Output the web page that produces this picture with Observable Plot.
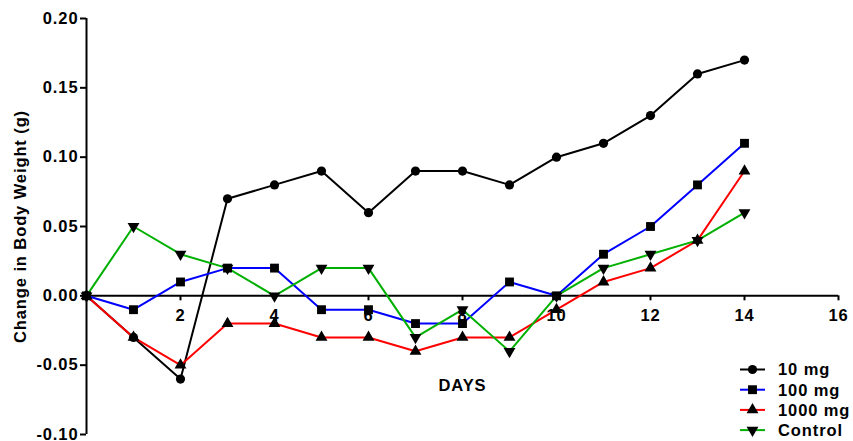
<!DOCTYPE html>
<html>
<head>
<meta charset="utf-8">
<script src="https://cdn.jsdelivr.net/npm/d3@7"></script>
<script src="https://cdn.jsdelivr.net/npm/@observablehq/plot@0.6"></script>
<style>
  html, body { margin: 0; padding: 0; background: #fff; }
  #chart { width: 853px; height: 441px; }
</style>
</head>
<body>
<div id="chart"></div>
<script>
// ---- data ----
const days = [0, 1, 2, 3, 4, 5, 6, 7, 8, 9, 10, 11, 12, 13, 14];
const seriesNames = ["10 mg", "100 mg", "1000 mg", "Control"];
const mg10    = [0, -0.03, -0.06, 0.07, 0.08, 0.09, 0.06, 0.09, 0.09, 0.08, 0.10, 0.11, 0.13, 0.16, 0.17];
const mg100   = [0, -0.01, 0.01, 0.02, 0.02, -0.01, -0.01, -0.02, -0.02, 0.01, 0, 0.03, 0.05, 0.08, 0.11];
const mg1000  = [0, -0.03, -0.05, -0.02, -0.02, -0.03, -0.03, -0.04, -0.03, -0.03, -0.01, 0.01, 0.02, 0.04, 0.09];
const control = [0, 0.05, 0.03, 0.02, 0, 0.02, 0.02, -0.03, -0.01, -0.04, 0, 0.02, 0.03, 0.04, 0.06];
const xTicks = [2, 4, 6, 8, 10, 12, 14, 16];
const yTicks = [-0.10, -0.05, 0.00, 0.05, 0.10, 0.15, 0.20];
const xLabel = "DAYS";
const yLabel = "Change in Body Weight (g)";

// ---- styles ----
const colors = ["#000000", "#0000ff", "#ff0000", "#00b000"];
const symbols = ["circle", "square", "triangle", "triangle"];
const rotations = [0, 0, 0, 180];
const radii = [4.6, 5, 4.4, 4.4];

const allValues = [mg10, mg100, mg1000, control];
const rows = [];
seriesNames.forEach((name, i) => {
  allValues[i].forEach((v, j) => rows.push({series: name, day: days[j], value: v, idx: i}));
});

const width = 853, height = 441;
const mt = 18, mb = 7, ml = 86, mr = 15;
const yDomain = [-0.10, 0.20];
const xDomain = [0, 16];
const xAxisShift = -((0 - yDomain[0]) / (yDomain[1] - yDomain[0])) * (height - mt - mb);
const fs = 16.5;

const marks = [];
marks.push(Plot.ruleY([0], {stroke: "#000", strokeWidth: 2}));
marks.push(Plot.ruleX([0], {stroke: "#000", strokeWidth: 2}));
seriesNames.forEach((name, i) => {
  marks.push(Plot.line(rows.filter(r => r.idx === i), {
    x: "day", y: "value", stroke: colors[i], strokeWidth: 2
  }));
});
marks.push(Plot.axisY({
  ticks: yTicks, tickFormat: d => d.toFixed(2), tickSize: 6, tickPadding: 2,
  strokeWidth: 2, label: null, fontSize: fs
}));
marks.push(Plot.axisX({
  ticks: xTicks, tickFormat: d => String(d), tickSize: 5, tickPadding: 8,
  strokeWidth: 2, label: null, dy: xAxisShift, fontSize: fs
}));
marks.push(Plot.text([yLabel], {
  frameAnchor: "left", dx: -66, rotate: -90, textAnchor: "middle",
  text: d => d, fontSize: fs, fontWeight: "bold"
}));
seriesNames.forEach((name, i) => {
  marks.push(Plot.dot(rows.filter(r => r.idx === i), {
    x: "day", y: "value", symbol: () => symbols[i], r: radii[i],
    rotate: rotations[i], fill: "#000", stroke: "none"
  }));
});
marks.push(Plot.text([xLabel], {x: 8, y: -0.0645, text: d => d, fontSize: fs, fontWeight: "bold"}));

const plot = Plot.plot({
  width, height,
  marginTop: mt, marginBottom: mb, marginLeft: ml, marginRight: mr,
  x: {domain: xDomain, axis: null},
  y: {domain: yDomain, axis: null},
  symbol: {type: "identity"},
  style: {fontFamily: "'Liberation Sans', Arial, sans-serif", fontWeight: "bold", fontSize: fs + "px", letterSpacing: "0.9px", background: "#fff", color: "#000"},
  marks
});

// ---- legend (drawn inside the SVG, bottom right) ----
const svg = d3.select(plot);
const lg = svg.append("g").attr("class", "legend").attr("text-anchor", "start");
const legendY0 = 369.5, legendStep = 20.2, lineX1 = 740, lineX2 = 765, symX = 752.5, textX = 778;
const d3sym = {circle: d3.symbolCircle, square: d3.symbolSquare, triangle: d3.symbolTriangle};
seriesNames.forEach((name, i) => {
  const y = legendY0 + i * legendStep;
  lg.append("line").attr("x1", lineX1).attr("x2", lineX2).attr("y1", y).attr("y2", y)
    .attr("stroke", colors[i]).attr("stroke-width", 2);
  lg.append("path")
    .attr("d", d3.symbol(d3sym[symbols[i]], Math.PI * radii[i] * radii[i])())
    .attr("transform", `translate(${symX},${y}) rotate(${rotations[i]})`)
    .attr("fill", "#000");
  lg.append("text").attr("x", textX).attr("y", y).attr("dy", "0.36em")
    .attr("text-anchor", "start")
    .attr("font-size", fs).attr("font-weight", "bold").attr("fill", "#000")
    .text(name);
});

document.getElementById("chart").appendChild(plot);
</script>
</body>
</html>
